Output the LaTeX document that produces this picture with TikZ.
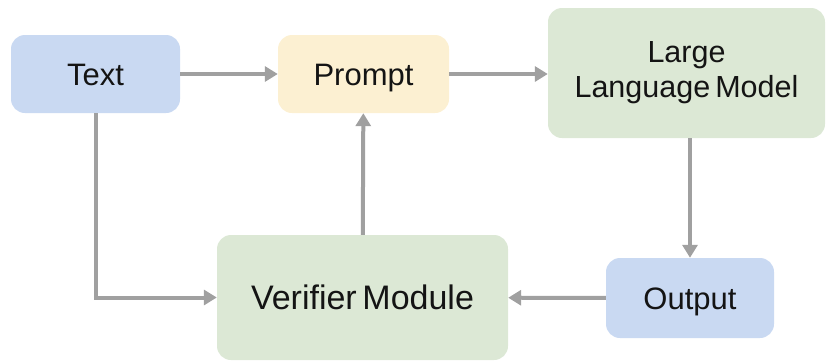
\documentclass[tikz,border=0pt]{standalone}
\usepackage{fontspec}
\setmainfont{Liberation Sans}[WordSpace=0.6]
\usetikzlibrary{arrows.meta}
\definecolor{boxblue}{HTML}{C9D9F2}
\definecolor{boxyellow}{HTML}{FCF0D2}
\definecolor{boxgreen}{HTML}{DCE8D5}
\definecolor{arrgray}{HTML}{A0A0A0}
\tikzset{
  box/.style={rectangle, rounded corners=14pt, draw=none, inner sep=0pt, anchor=center,
    font=\fontsize{31}{36}\selectfont, text=black!92, text height=22pt, text depth=0pt},
  conn/.style={draw=arrgray, line width=4pt, -{Triangle[length=13pt,width=15pt]}}
}
\begin{document}
\begin{tikzpicture}[x=1pt,y=-1pt]
\useasboundingbox (0,0) rectangle (826,362);
\node[box, fill=boxblue, minimum width=169pt, minimum height=78pt] (txt) at (95.5,74) {Text};
\node[box, fill=boxyellow, minimum width=171pt, minimum height=78pt] (prm) at (363.5,74) {Prompt};
\node[box, fill=boxgreen, minimum width=277pt, minimum height=130pt, align=center,
      font=\fontsize{30.5}{35}\selectfont, text height=, text depth=] (llm) at (686.5,73) {Large\\Language Model};
\node[box, fill=boxblue, minimum width=168pt, minimum height=80pt] (out) at (690,298) {Output};
\node[box, fill=boxgreen, minimum width=291pt, minimum height=125pt,
      font=\fontsize{34}{40}\selectfont, text height=24pt] (ver) at (362.5,297.5) {Verifier Module};
\draw[conn] (txt) -- (prm);
\draw[conn] (prm.east) -- (prm.east -| llm.west);
\draw[conn] (out.north |- llm.south) -- (out.north);
\draw[conn] (out) -- (ver);
\draw[conn] (ver) -- (prm);
\draw[conn] (txt.south) |- (ver.west);
\end{tikzpicture}
\end{document}
